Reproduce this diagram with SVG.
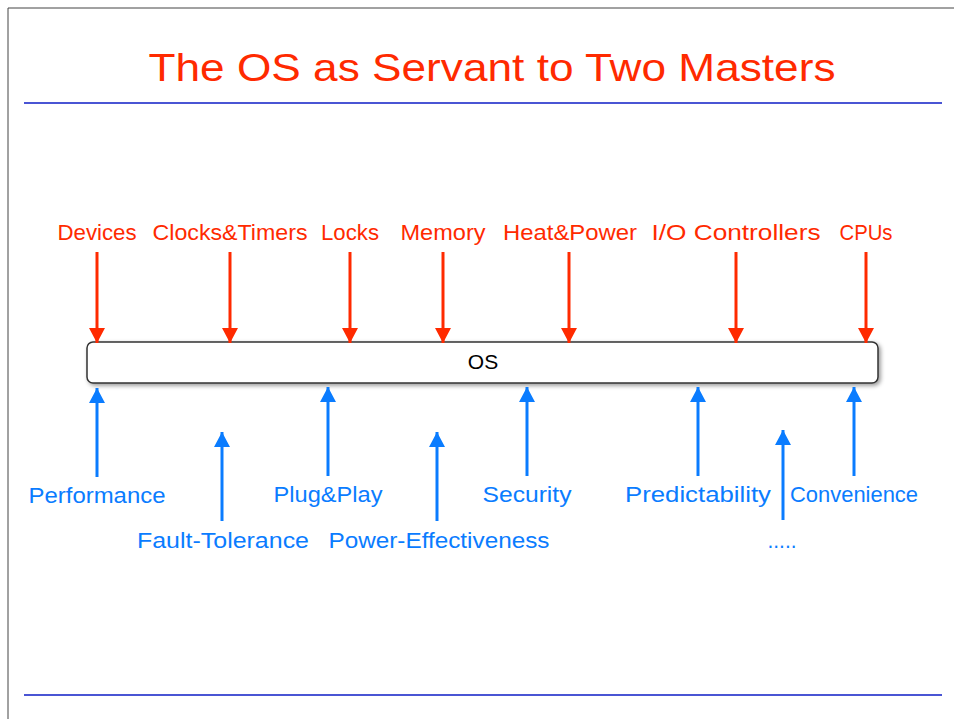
<svg xmlns="http://www.w3.org/2000/svg" width="954" height="719" viewBox="0 0 954 719">
<style>
.title{font-family:"Liberation Sans",Arial,sans-serif;font-size:39px;fill:#ff2a00;text-anchor:middle}
.top{font-family:"Liberation Sans",Arial,sans-serif;font-size:22px;fill:#ff2a00;text-anchor:middle}
.bot{font-family:"Liberation Sans",Arial,sans-serif;font-size:22px;fill:#0a7cff;text-anchor:middle}
.rl{stroke:#ff2a00;stroke-width:3;fill:none;marker-end:url(#ar)}
.bl{stroke:#0a7cff;stroke-width:3;fill:none;marker-end:url(#ab)}
.rule{stroke:#4a55d4;stroke-width:2}
</style>
<defs>
<marker id="ar" markerUnits="userSpaceOnUse" markerWidth="16" markerHeight="16" refX="15" refY="8" orient="auto"><path d="M0,0 L15,8 L0,16 Z" fill="#ff2a00"/></marker>
<marker id="ab" markerUnits="userSpaceOnUse" markerWidth="16" markerHeight="16" refX="15" refY="8" orient="auto"><path d="M0,0 L15,8 L0,16 Z" fill="#0a7cff"/></marker>
<filter id="sh" x="-5%" y="-30%" width="110%" height="170%"><feDropShadow dx="2" dy="2" stdDeviation="2" flood-color="#000" flood-opacity="0.4"/></filter>
</defs>
<rect width="954" height="719" fill="#fff"/>
<line x1="8" y1="8" x2="954" y2="8" stroke="#444" stroke-width="1"/>
<line x1="8" y1="8" x2="8" y2="719" stroke="#444" stroke-width="1"/>
<text class="title" x="492" y="81" textLength="687" lengthAdjust="spacingAndGlyphs">The OS as Servant to Two Masters</text>
<line class="rule" x1="24" y1="103" x2="942" y2="103"/>
<line class="rule" x1="24" y1="695" x2="942" y2="695"/>
<g id="os"><rect x="87" y="342" width="791" height="41" rx="6" fill="#fff" stroke="#333" stroke-width="1.5" filter="url(#sh)"/><text x="483" y="369" font-family="Liberation Sans,Arial,sans-serif" font-size="21" fill="#000" text-anchor="middle">OS</text></g>
<g id="devices"><text class="top" x="97" y="240" textLength="79" lengthAdjust="spacingAndGlyphs">Devices</text></g>
<g id="clocks"><text class="top" x="230" y="240" textLength="155" lengthAdjust="spacingAndGlyphs">Clocks&amp;Timers</text></g>
<g id="locks"><text class="top" x="350" y="240" textLength="58" lengthAdjust="spacingAndGlyphs">Locks</text></g>
<g id="memory"><text class="top" x="443" y="240" textLength="85" lengthAdjust="spacingAndGlyphs">Memory</text></g>
<g id="heat"><text class="top" x="570" y="240" textLength="134" lengthAdjust="spacingAndGlyphs">Heat&amp;Power</text></g>
<g id="io"><text class="top" x="736" y="240" textLength="169" lengthAdjust="spacingAndGlyphs">I/O Controllers</text></g>
<g id="cpus"><text class="top" x="866" y="240" textLength="53" lengthAdjust="spacingAndGlyphs">CPUs</text></g>
<g id="performance"><text class="bot" x="97" y="503" textLength="137" lengthAdjust="spacingAndGlyphs">Performance</text></g>
<g id="fault"><text class="bot" x="223" y="548" textLength="172" lengthAdjust="spacingAndGlyphs">Fault-Tolerance</text></g>
<g id="plug"><text class="bot" x="328" y="502" textLength="109" lengthAdjust="spacingAndGlyphs">Plug&amp;Play</text></g>
<g id="power"><text class="bot" x="439" y="548" textLength="221" lengthAdjust="spacingAndGlyphs">Power-Effectiveness</text></g>
<g id="security"><text class="bot" x="527" y="502" textLength="89" lengthAdjust="spacingAndGlyphs">Security</text></g>
<g id="predict"><text class="bot" x="698" y="502" textLength="146" lengthAdjust="spacingAndGlyphs">Predictability</text></g>
<g id="more"><text class="bot" x="782" y="548" textLength="29" lengthAdjust="spacingAndGlyphs">.....</text></g>
<g id="convenience"><text class="bot" x="854" y="502" textLength="128" lengthAdjust="spacingAndGlyphs">Convenience</text></g>
<g id="connectors">
<line class="rl" x1="97" y1="252" x2="97" y2="343"/>
<line class="rl" x1="230" y1="252" x2="230" y2="343"/>
<line class="rl" x1="350" y1="252" x2="350" y2="343"/>
<line class="rl" x1="443" y1="252" x2="443" y2="343"/>
<line class="rl" x1="569" y1="252" x2="569" y2="343"/>
<line class="rl" x1="736" y1="252" x2="736" y2="343"/>
<line class="rl" x1="866" y1="252" x2="866" y2="343"/>
<line class="bl" x1="97" y1="477" x2="97" y2="388"/>
<line class="bl" x1="222" y1="521" x2="222" y2="432"/>
<line class="bl" x1="328" y1="476" x2="328" y2="387"/>
<line class="bl" x1="437" y1="521" x2="437" y2="432"/>
<line class="bl" x1="527" y1="476" x2="527" y2="387"/>
<line class="bl" x1="698" y1="476" x2="698" y2="387"/>
<line class="bl" x1="783" y1="520" x2="783" y2="430"/>
<line class="bl" x1="854" y1="476" x2="854" y2="387"/>
</g>
</svg>
